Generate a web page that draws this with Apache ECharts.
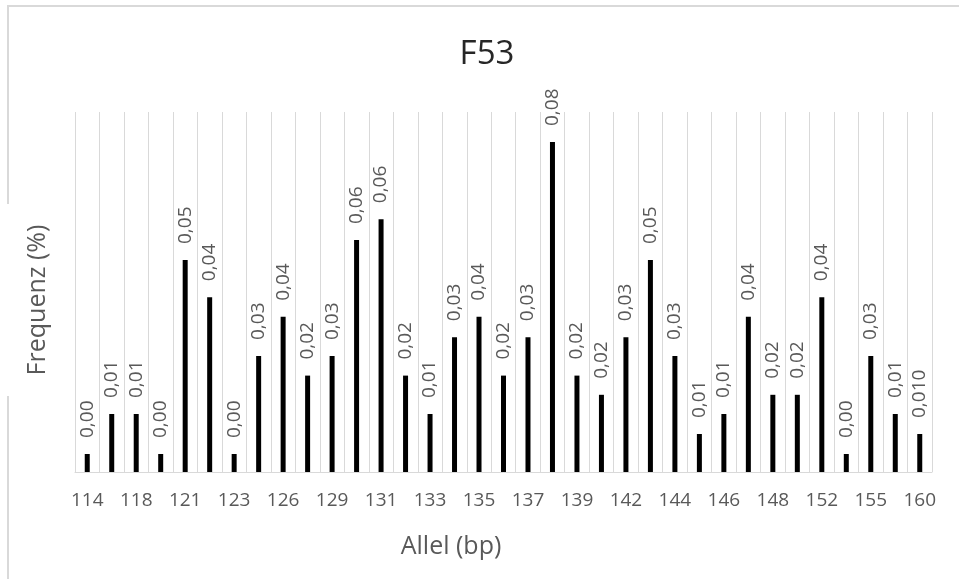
<!DOCTYPE html>
<html>
<head>
<meta charset="utf-8">
<script src="https://cdn.jsdelivr.net/npm/echarts@6/dist/echarts.min.js"></script>
<style>
html,body{margin:0;padding:0;background:#fff;}
#chart{width:959px;height:579px;}
</style>
</head>
<body>
<div id="chart"></div>
<script>
// Allele sizes (bp); only every other one is labelled in the reference
const categories = ['114','116','118','120','121','122','123','125','126','128','129','130','131','132','133','134','135','136','137','138','139','141','142','143','144','145','146','147','148','150','152','153','155','158','160'];
// Frequency values
const values = [0.0045,0.0145,0.0145,0.0045,0.053,0.0437,0.0045,0.029,0.0388,0.0241,0.029,0.058,0.0632,0.0241,0.0145,0.0337,0.0388,0.0241,0.0337,0.0825,0.0241,0.0193,0.0337,0.053,0.029,0.0095,0.0145,0.0388,0.0193,0.0193,0.0437,0.0045,0.029,0.0145,0.0095];
// Data label texts as printed in the reference
const labels = ['0,00','0,01','0,01','0,00','0,05','0,04','0,00','0,03','0,04','0,02','0,03','0,06','0,06','0,02','0,01','0,03','0,04','0,02','0,03','0,08','0,02','0,02','0,03','0,05','0,03','0,01','0,01','0,04','0,02','0,02','0,04','0,00','0,03','0,01','0,010'];
const titleText = 'F53';
const xName = 'Allel (bp)';
const yName = 'Frequenz (%)';

const chart = echarts.init(document.getElementById('chart'));
const font = '"Open Sans", "Noto Sans", sans-serif';
chart.setOption({
  animation: false,
  backgroundColor: '#fff',
  grid: {left: 75, right: 27, top: 112, bottom: 107},
  xAxis: {
    type: 'category',
    data: categories,
    boundaryGap: true,
    axisLine: {show: true, lineStyle: {color: '#d9d9d9', width: 1}},
    axisTick: {show: false},
    splitLine: {show: true, interval: 0, lineStyle: {color: '#d9d9d9', width: 1}},
    axisLabel: {interval: 1, color: '#595959', fontSize: 19, fontFamily: font, margin: 19}
  },
  yAxis: {
    type: 'value',
    min: 0,
    max: 0.09,
    axisLine: {show: false},
    axisTick: {show: false},
    axisLabel: {show: false},
    splitLine: {show: false}
  },
  series: [{
    type: 'bar',
    data: values,
    barWidth: 5,
    itemStyle: {color: '#000'},
    label: {
      show: true,
      position: 'top',
      rotate: 90,
      align: 'left',
      verticalAlign: 'middle',
      distance: 16,
      color: '#595959',
      fontSize: 19,
      fontFamily: font,
      formatter: p => labels[p.dataIndex]
    }
  }],
  graphic: [
    {type: 'line', shape: {x1: 7, y1: 6, x2: 959, y2: 6}, style: {stroke: '#d9d9d9', lineWidth: 2}},
    {type: 'line', shape: {x1: 8, y1: 6, x2: 8, y2: 204}, style: {stroke: '#d9d9d9', lineWidth: 2}},
    {type: 'line', shape: {x1: 8, y1: 396, x2: 8, y2: 579}, style: {stroke: '#d9d9d9', lineWidth: 2}},
    {type: 'text', x: 487, y: 55, style: {text: titleText, fill: '#262626', font: '33px ' + font, textAlign: 'center', textVerticalAlign: 'middle'}},
    {type: 'text', x: 451, y: 547, style: {text: xName, fill: '#595959', font: '25px ' + font, textAlign: 'center', textVerticalAlign: 'middle'}},
    {type: 'text', x: 38, y: 300, rotation: Math.PI / 2, style: {text: yName, fill: '#595959', font: '25px ' + font, textAlign: 'center', textVerticalAlign: 'middle'}}
  ]
});
</script>
</body>
</html>
